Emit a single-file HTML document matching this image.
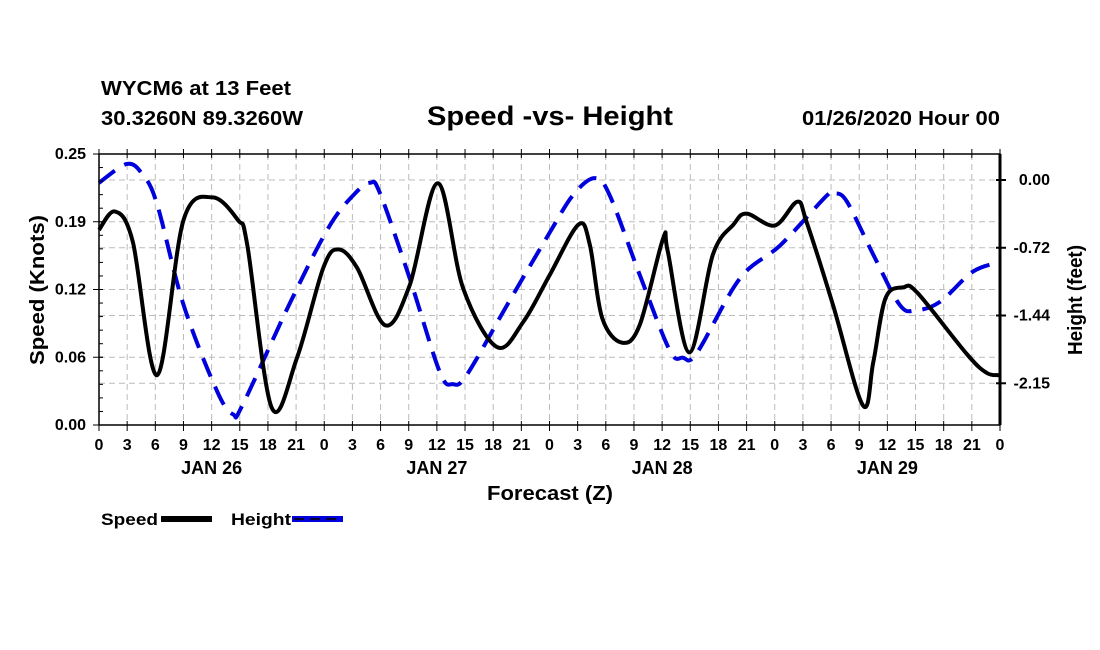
<!DOCTYPE html>
<html><head><meta charset="utf-8"><style>
html,body{margin:0;padding:0;background:#fff;}
svg{display:block;font-family:"Liberation Sans",Arial,sans-serif;font-weight:bold;}
</style></head><body>
<svg id="chart" width="1100" height="650" viewBox="0 0 1100 650">
<text x="101" y="95" font-size="20" textLength="190" lengthAdjust="spacingAndGlyphs">WYCM6 at 13 Feet</text>
<text x="101" y="125" font-size="20" textLength="202" lengthAdjust="spacingAndGlyphs">30.3260N 89.3260W</text>
<text x="427" y="125" font-size="27" textLength="246" lengthAdjust="spacingAndGlyphs">Speed -vs- Height</text>
<text x="802" y="125" font-size="20" textLength="198" lengthAdjust="spacingAndGlyphs">01/26/2020 Hour 00</text>
<g id="grid"></g>
<g id="series"></g>
<g id="axes"></g>
<text transform="translate(44,290) rotate(-90)" font-size="20" text-anchor="middle" textLength="150" lengthAdjust="spacingAndGlyphs">Speed (Knots)</text>
<text transform="translate(1082,300) rotate(-90)" font-size="20" text-anchor="middle" textLength="110" lengthAdjust="spacingAndGlyphs">Height (feet)</text>
<text x="487" y="500" font-size="20" textLength="126" lengthAdjust="spacingAndGlyphs">Forecast (Z)</text>
<g>
<text x="101" y="525" font-size="17" textLength="57" lengthAdjust="spacingAndGlyphs">Speed</text>
<rect x="161" y="516" width="51" height="6" fill="#000"/>
<text x="231" y="525" font-size="17" textLength="60" lengthAdjust="spacingAndGlyphs">Height</text>
<rect x="292" y="516" width="51" height="6" fill="#0000dd"/>
<line x1="294" y1="519" x2="342" y2="519" stroke="#000" stroke-width="1.5" stroke-dasharray="10,6"/>
</g>
</svg>
<script>
const speedHours=[0,1.7,3.6,6.2,9,12.1,14.8,15.8,18.4,21.1,23.9,25.5,27.5,30.5,33.1,36.1,38.8,42.4,45.2,48,51.1,52.3,53.6,55.7,57.6,60.1,60.6,62.9,65.4,67.6,69,72,74.4,75.4,78.2,81.4,82.5,83.8,85.7,87.2,92.5,94.6,96];
const speedValues=[0.18,0.197,0.169,0.046,0.189,0.21,0.189,0.166,0.016,0.062,0.145,0.162,0.145,0.092,0.129,0.223,0.126,0.072,0.095,0.138,0.185,0.166,0.099,0.076,0.092,0.172,0.16,0.067,0.157,0.185,0.195,0.184,0.206,0.187,0.111,0.018,0.058,0.117,0.127,0.122,0.065,0.048,0.046];
const heightHours=[0,3,4.7,6.2,9,12.6,14.3,15.3,20.4,24.6,27.5,28.9,29.9,33.1,36.3,37.7,39.2,43.5,48,50.5,52.8,54.4,57.6,60.8,62.2,63.7,68.3,72.6,77.6,78.4,79.7,82.5,85.3,87,89.6,93.1,96];
const heightValues=[-0.03,0.17,0.05,-0.26,-1.32,-2.24,-2.48,-2.38,-1.29,-0.48,-0.12,-0.03,-0.13,-1.04,-2.03,-2.16,-2.06,-1.32,-0.56,-0.16,0.02,-0.16,-1.0,-1.8,-1.88,-1.83,-1.04,-0.69,-0.16,-0.14,-0.23,-0.79,-1.32,-1.38,-1.29,-0.97,-0.87];
const leftTicks=[0,0.0625,0.125,0.1875,0.25];
const leftTickLabels=["0.00","0.06","0.12","0.19","0.25"];
const rightTicks=[0,-0.717,-1.434,-2.151];
const rightTickLabels=["0.00","-0.72","-1.44","-2.15"];
const xTickHours=[0,3,6,9,12,15,18,21,24,27,30,33,36,39,42,45,48,51,54,57,60,63,66,69,72,75,78,81,84,87,90,93,96];
const dayHours=[12,36,60,84];
const dayLabels=["JAN 26","JAN 27","JAN 28","JAN 29"];

const X0=99,X1=1000,Y0=154,Y1=425;
const xs=h=>X0+(X1-X0)*h/96;
const yL=v=>Y1-(Y1-Y0)*v/0.25;
const yR=v=>180-v*94.5;
const NS="http://www.w3.org/2000/svg";
function mk(tag,attrs,parent){const e=document.createElementNS(NS,tag);for(const k in attrs)e.setAttribute(k,attrs[k]);parent.appendChild(e);return e;}
const grid=document.getElementById('grid'),axes=document.getElementById('axes'),series=document.getElementById('series');

xTickHours.forEach((h,i)=>{
  if(h>0&&h<96){const l=mk('line',{x1:xs(h),x2:xs(h),y1:Y0,y2:Y1,stroke:'#bbb','stroke-width':1,'stroke-dasharray':'6,4'},grid);
  
  }
  const t=mk('line',{x1:xs(h),x2:xs(h),y1:Y1-4,y2:Y1+6,stroke:'#000','stroke-width':1},axes);
  
  
  const t2=mk('line',{x1:xs(h),x2:xs(h),y1:Y0-5,y2:Y0+4,stroke:'#000','stroke-width':1},axes);
  
  
  const tx=mk('text',{x:xs(h),y:450,'font-size':16,'text-anchor':'middle'},axes);
  tx.textContent=String(h%24);
  
  
});
dayHours.forEach((h,i)=>{
  const tx=mk('text',{x:xs(h),y:474,'font-size':18,'text-anchor':'middle'},axes);
  tx.textContent=dayLabels[i];
  
  
});
leftTicks.forEach((v,i)=>{
  const y=yL(v);
  if(v>0&&v<0.25){const l=mk('line',{x1:X0,x2:X1,y1:y,y2:y,stroke:'#bbb','stroke-width':1,'stroke-dasharray':'6,4'},grid);
  
  }
  const t=mk('line',{x1:X0-6,x2:X0+4,y1:y,y2:y,stroke:'#000'},axes);
  
  
  const tx=mk('text',{x:X0-13,y:y+5,'font-size':16,'text-anchor':'end'},axes);
  tx.textContent=leftTickLabels[i];
  
  
});
for(let k=1;k<20;k++){const y=Y1-(Y1-Y0)*k/20;const t=mk('line',{x1:X0,x2:X0+4,y1:y,y2:y,stroke:'#000'},axes);
  
  }
rightTicks.forEach((v,i)=>{
  const y=yR(v);
  const l=mk('line',{x1:X0,x2:X1,y1:y,y2:y,stroke:'#bbb','stroke-width':1,'stroke-dasharray':'6,4'},grid);
  
  
  const t=mk('line',{x1:X1-4,x2:X1+6,y1:y,y2:y,stroke:'#000','stroke-width':2},axes);
  
  
  const tx=mk('text',{x:1050,y:y+5,'font-size':16,'text-anchor':'end'},axes);
  tx.textContent=rightTickLabels[i];
  
  
});
const frame=mk('rect',{x:X0,y:Y0,width:X1-X0,height:Y1-Y0,fill:'none',stroke:'#000','stroke-width':1.5},axes);


const ra=mk('line',{x1:X1,x2:X1,y1:Y0,y2:Y1,stroke:'#000','stroke-width':3},axes);



function smooth(pts){let d=`M${pts[0][0]},${pts[0][1]}`;
  for(let i=0;i<pts.length-1;i++){const p0=pts[i-1]||pts[i],p1=pts[i],p2=pts[i+1],p3=pts[i+2]||p2;
    const c1=[p1[0]+(p2[0]-p0[0])/6,p1[1]+(p2[1]-p0[1])/6],c2=[p2[0]-(p3[0]-p1[0])/6,p2[1]-(p3[1]-p1[1])/6];
    d+=`C${c1[0].toFixed(1)},${c1[1].toFixed(1)} ${c2[0].toFixed(1)},${c2[1].toFixed(1)} ${p2[0].toFixed(1)},${p2[1].toFixed(1)}`;}
  return d;}
const hp=mk('path',{d:smooth(heightHours.map((h,i)=>[xs(h),yR(heightValues[i])])),fill:'none',stroke:'#0000dd','stroke-width':4,'stroke-dasharray':'20,11'},series);


const sp=mk('path',{d:smooth(speedHours.map((h,i)=>[xs(h),yL(speedValues[i])])),fill:'none',stroke:'#000','stroke-width':4,'stroke-linejoin':'round'},series);


</script>
</body></html>
